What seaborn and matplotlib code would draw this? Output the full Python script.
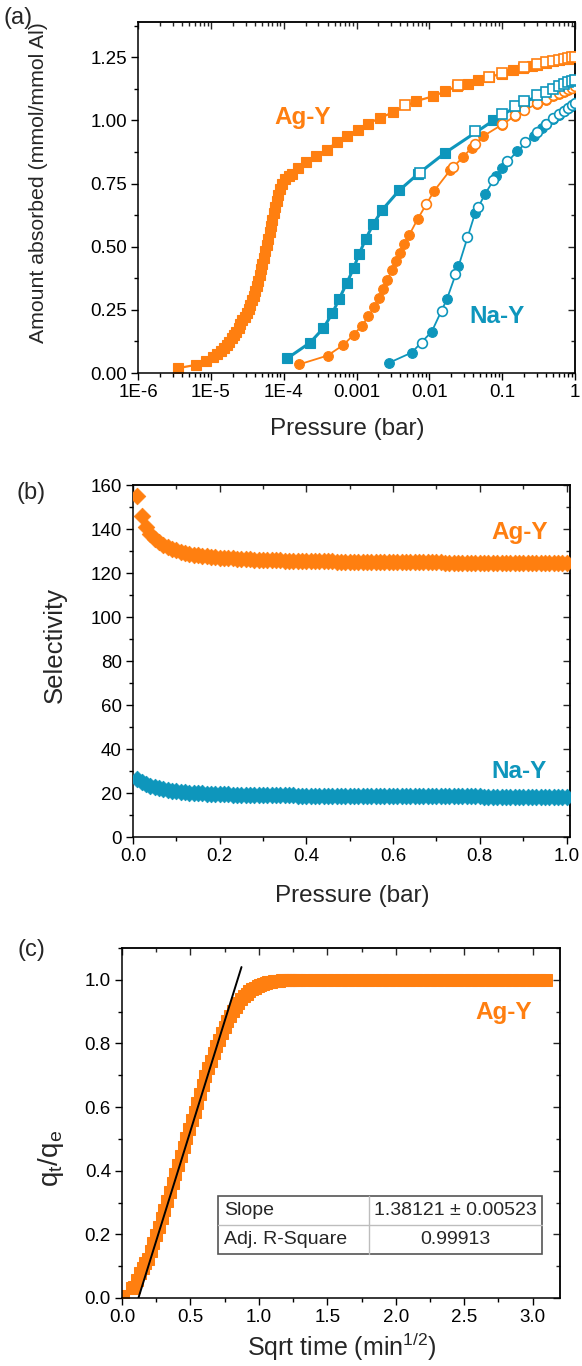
import numpy as np
import pandas as pd
import matplotlib
matplotlib.use("Agg")
import matplotlib.pyplot as plt
import seaborn as sns
from matplotlib.ticker import (FixedLocator, FixedFormatter, MultipleLocator,
                               LogLocator, NullFormatter, FormatStrFormatter)
from matplotlib.patches import Rectangle

# ---------------- colours ----------------
ORANGE = "#FF7F10"
BLUE = "#0E96BC"

# ---------------- panel (a): isotherms ----------------
ag_sq_p = [3.5e-6, 6.2e-6, 8.6e-6, 1.08e-5, 1.22e-5, 1.36e-5, 1.5e-5, 1.65e-5, 1.8e-5,
           1.95e-5, 2.1e-5, 2.25e-5, 2.4e-5, 2.55e-5, 2.72e-5, 2.9e-5, 3.1e-5, 3.3e-5,
           3.5e-5, 3.7e-5, 3.9e-5, 4.1e-5, 4.3e-5, 4.5e-5, 4.7e-5, 4.9e-5, 5.1e-5,
           5.35e-5, 5.6e-5, 5.85e-5, 6.1e-5, 6.4e-5, 6.7e-5, 7.0e-5, 7.3e-5, 7.65e-5,
           8.0e-5, 8.4e-5, 8.9e-5, 9.5e-5, 1.05e-4, 1.17e-4, 1.29e-4, 1.55e-4, 2.05e-4,
           2.8e-4, 3.9e-4, 5.4e-4, 7.5e-4, 1.06e-3, 1.46e-3, 2.1e-3, 3.2e-3, 6.6e-3,
           1.14e-2, 1.65e-2, 2.4e-2, 3.4e-2, 4.7e-2, 6.6e-2, 0.1, 0.143, 0.196, 0.256,
           0.3, 0.4, 0.5, 0.6, 0.7, 0.8, 0.9, 1.0]
ag_sq_q = [0.019, 0.032, 0.049, 0.065, 0.076, 0.088, 0.100, 0.112, 0.124,
           0.137, 0.150, 0.164, 0.178, 0.193, 0.208, 0.223, 0.238, 0.254,
           0.270, 0.288, 0.306, 0.325, 0.345, 0.366, 0.388, 0.410, 0.433,
           0.457, 0.482, 0.507, 0.532, 0.557, 0.582, 0.607, 0.632, 0.657,
           0.682, 0.705, 0.727, 0.748, 0.768, 0.780, 0.790, 0.812, 0.836,
           0.858, 0.885, 0.914, 0.940, 0.964, 0.988, 1.010, 1.033, 1.077,
           1.096, 1.116, 1.135, 1.143, 1.159, 1.172, 1.186, 1.200, 1.209, 1.216,
           1.221, 1.228, 1.234, 1.238, 1.242, 1.245, 1.248, 1.250]
ag_sq_open_p = [4.65e-3, 2.5e-2, 6.5e-2, 0.099, 0.2, 0.3, 0.4, 0.5, 0.6, 0.7, 0.8, 0.9, 1.0]
ag_sq_open_q = [1.063, 1.140, 1.174, 1.188, 1.212, 1.224, 1.231, 1.236, 1.241, 1.245, 1.248, 1.251, 1.253]

na_sq_p = [1.12e-4, 2.3e-4, 3.5e-4, 4.67e-4, 5.8e-4, 7.35e-4, 9.1e-4, 1.09e-3, 1.34e-3,
           1.71e-3, 2.27e-3, 3.85e-3, 7.1e-3, 1.65e-2, 7.6e-2, 0.15, 0.2, 0.3, 0.4,
           0.5, 0.6, 0.7, 0.8, 0.9, 1.0]
na_sq_q = [0.058, 0.120, 0.177, 0.237, 0.294, 0.356, 0.414, 0.472, 0.531,
           0.591, 0.647, 0.723, 0.790, 0.872, 1.000, 1.052, 1.072, 1.095, 1.110,
           1.122, 1.132, 1.140, 1.147, 1.153, 1.158]
na_sq_open_p = [7.5e-3, 4.2e-2, 9.9e-2, 0.15, 0.2, 0.3, 0.4, 0.5, 0.6, 0.7, 0.8, 0.9, 1.0]
na_sq_open_q = [0.792, 0.960, 1.026, 1.057, 1.076, 1.099, 1.114, 1.126, 1.136, 1.144, 1.151, 1.157, 1.162]

ag_ci_p = [1.63e-4, 4.0e-4, 6.6e-4, 9.1e-4, 1.18e-3, 1.46e-3, 1.76e-3, 2.04e-3, 2.34e-3,
           2.66e-3, 3.05e-3, 3.5e-3, 3.98e-3, 4.55e-3, 5.33e-3, 6.95e-3, 1.17e-2, 1.93e-2,
           2.9e-2, 3.8e-2, 5.5e-2, 0.1, 0.15, 0.2, 0.3, 0.4, 0.5, 0.6, 0.7, 0.8, 0.9, 1.0]
ag_ci_q = [0.034, 0.069, 0.111, 0.151, 0.187, 0.224, 0.261, 0.296, 0.332,
           0.369, 0.406, 0.442, 0.477, 0.511, 0.548, 0.611, 0.722, 0.803,
           0.855, 0.892, 0.938, 0.984, 1.018, 1.040, 1.066, 1.083, 1.096, 1.106, 1.114,
           1.121, 1.127, 1.132]
ag_ci_open_p = [9.0e-3, 2.14e-2, 4.26e-2, 0.099, 0.15, 0.2, 0.3, 0.4, 0.5, 0.6, 0.7, 0.8, 0.9, 1.0]
ag_ci_open_q = [0.668, 0.817, 0.905, 0.985, 1.020, 1.043, 1.069, 1.086, 1.099, 1.109, 1.117, 1.124, 1.130, 1.135]

na_ci_p = [2.83e-3, 5.74e-3, 1.08e-2, 1.74e-2, 2.51e-2, 4.26e-2, 5.84e-2, 8.3e-2, 0.1,
           0.16, 0.27, 0.35, 0.4, 0.5, 0.6, 0.7, 0.8, 0.9, 1.0]
na_ci_q = [0.041, 0.081, 0.164, 0.292, 0.422, 0.634, 0.709, 0.782, 0.812,
           0.878, 0.940, 0.970, 0.985, 1.006, 1.022, 1.036, 1.048, 1.058, 1.066]
na_ci_open_p = [7.9e-3, 1.48e-2, 2.26e-2, 3.27e-2, 4.64e-2, 7.6e-2, 0.118, 0.207, 0.3,
                0.4, 0.5, 0.6, 0.7, 0.8, 0.9, 1.0]
na_ci_open_q = [0.118, 0.247, 0.392, 0.537, 0.656, 0.766, 0.839, 0.914, 0.955,
                0.988, 1.009, 1.025, 1.039, 1.050, 1.060, 1.069]

a_xticks = [1e-6, 1e-5, 1e-4, 1e-3, 1e-2, 1e-1, 1.0]
a_xticklabels = ["1E-6", "1E-5", "1E-4", "0.001", "0.01", "0.1", "1"]

# ---------------- panel (b): selectivity ----------------
sel_p = [0.01, 0.02, 0.03, 0.04, 0.05, 0.06, 0.07, 0.08, 0.09, 0.10,
         0.11, 0.12, 0.13, 0.14, 0.15, 0.16, 0.17, 0.18, 0.19, 0.20,
         0.21, 0.22, 0.23, 0.24, 0.25, 0.26, 0.27, 0.28, 0.29, 0.30,
         0.31, 0.32, 0.33, 0.34, 0.35, 0.36, 0.37, 0.38, 0.39, 0.40,
         0.41, 0.42, 0.43, 0.44, 0.45, 0.46, 0.47, 0.48, 0.49, 0.50,
         0.51, 0.52, 0.53, 0.54, 0.55, 0.56, 0.57, 0.58, 0.59, 0.60,
         0.61, 0.62, 0.63, 0.64, 0.65, 0.66, 0.67, 0.68, 0.69, 0.70,
         0.71, 0.72, 0.73, 0.74, 0.75, 0.76, 0.77, 0.78, 0.79, 0.80,
         0.81, 0.82, 0.83, 0.84, 0.85, 0.86, 0.87, 0.88, 0.89, 0.90,
         0.91, 0.92, 0.93, 0.94, 0.95, 0.96, 0.97, 0.98, 0.99, 1.00]
sel_agy = [155.0, 146.0, 141.0, 137.8, 135.6, 134.0, 132.8, 131.8, 131.0, 130.3,
           129.7, 129.2, 128.8, 128.4, 128.1, 127.8, 127.6, 127.4, 127.2, 127.0,
           126.9, 126.7, 126.6, 126.5, 126.4, 126.3, 126.2, 126.1, 126.0, 125.9,
           125.85, 125.8, 125.75, 125.7, 125.65, 125.6, 125.55, 125.5, 125.45, 125.4,
           125.38, 125.35, 125.32, 125.3, 125.27, 125.24, 125.22, 125.2, 125.17, 125.15,
           125.13, 125.1, 125.08, 125.06, 125.04, 125.02, 125.0, 124.98, 124.96, 124.94,
           124.92, 124.9, 124.89, 124.88, 124.86, 124.85, 124.84, 124.82, 124.81, 124.8,
           124.78, 124.77, 124.76, 124.75, 124.74, 124.72, 124.71, 124.7, 124.69, 124.68,
           124.67, 124.66, 124.65, 124.64, 124.63, 124.62, 124.61, 124.6, 124.59, 124.58,
           124.57, 124.56, 124.55, 124.54, 124.53, 124.52, 124.51, 124.5, 124.49, 124.48]
sel_nay = [26.5, 25.0, 24.0, 23.2, 22.6, 22.1, 21.7, 21.3, 21.0, 20.7,
           20.5, 20.3, 20.15, 20.0, 19.9, 19.8, 19.7, 19.62, 19.55, 19.48,
           19.42, 19.36, 19.31, 19.26, 19.22, 19.18, 19.14, 19.1, 19.07, 19.04,
           19.01, 18.98, 18.96, 18.94, 18.92, 18.9, 18.88, 18.86, 18.84, 18.82,
           18.8, 18.79, 18.78, 18.77, 18.76, 18.75, 18.74, 18.73, 18.72, 18.71,
           18.7, 18.69, 18.68, 18.67, 18.66, 18.65, 18.64, 18.63, 18.62, 18.61,
           18.6, 18.59, 18.58, 18.57, 18.56, 18.55, 18.54, 18.53, 18.52, 18.51,
           18.5, 18.49, 18.48, 18.47, 18.46, 18.45, 18.44, 18.43, 18.42, 18.41,
           18.4, 18.39, 18.38, 18.37, 18.36, 18.35, 18.34, 18.33, 18.32, 18.31,
           18.3, 18.29, 18.28, 18.27, 18.26, 18.25, 18.24, 18.23, 18.22, 18.21]

# ---------------- panel (c): kinetics ----------------
kin_s = [0.01, 0.07, 0.09, 0.11, 0.13, 0.15, 0.17, 0.19, 0.21, 0.23, 0.25, 0.27, 0.29,
         0.31, 0.33, 0.35, 0.37, 0.39, 0.41, 0.43, 0.45, 0.47, 0.49, 0.51, 0.53, 0.55,
         0.57, 0.59, 0.61, 0.63, 0.65, 0.67, 0.69, 0.71, 0.73, 0.75, 0.77, 0.79, 0.81,
         0.83, 0.85, 0.87, 0.89, 0.91, 0.93, 0.95, 0.97, 0.99, 1.01, 1.03, 1.05, 1.07,
         1.09, 1.11, 1.13, 1.15, 1.17, 1.19, 1.21, 1.23, 1.25, 1.27, 1.29,
         1.35, 1.40, 1.45, 1.50, 1.55, 1.60, 1.65, 1.70, 1.75, 1.80, 1.85, 1.90, 1.95,
         2.00, 2.05, 2.10, 2.15, 2.20, 2.25, 2.30, 2.35, 2.40, 2.45, 2.50, 2.55, 2.60,
         2.65, 2.70, 2.75, 2.80, 2.85, 2.90, 2.95, 3.00, 3.05, 3.10]
kin_q = [0.006, 0.030, 0.035, 0.058, 0.078, 0.095, 0.110, 0.124, 0.148, 0.172, 0.197, 0.224, 0.251,
         0.278, 0.306, 0.334, 0.362, 0.390, 0.418, 0.446, 0.474, 0.502, 0.530, 0.558, 0.586, 0.614,
         0.642, 0.670, 0.697, 0.722, 0.746, 0.769, 0.791, 0.812, 0.832, 0.852, 0.870, 0.887, 0.902,
         0.916, 0.928, 0.939, 0.949, 0.957, 0.964, 0.970, 0.975, 0.980, 0.984, 0.987, 0.990, 0.992,
         0.994, 0.995, 0.996, 0.997, 0.998, 0.998, 0.999, 0.999, 0.999, 1.000, 1.000,
         1.000, 1.000, 1.000, 1.000, 1.000, 1.000, 1.000, 1.000, 1.000, 1.000, 1.000, 1.000, 1.000,
         1.000, 1.000, 1.000, 1.000, 1.000, 1.000, 1.000, 1.000, 1.000, 1.000, 1.000, 1.000, 1.000,
         1.000, 1.000, 1.000, 1.000, 1.000, 1.000, 1.000, 1.000, 1.000, 1.000]
fit_slope = 1.38121
fit_intercept = -0.1657
fit_range = [0.12, 0.873]
fit_labels = ["Slope", "Adj. R-Square"]
fit_values = ["1.38121 \u00b1 0.00523", "0.99913"]

# ---------------- style ----------------
sns.set_style("ticks")
plt.rcParams["font.family"] = ["Liberation Sans", "DejaVu Sans"]
plt.rcParams["mathtext.fontset"] = "custom"
plt.rcParams["mathtext.rm"] = "Liberation Sans"
plt.rcParams["mathtext.it"] = "Liberation Sans"
plt.rcParams["axes.linewidth"] = 1.1

TICK_FS = 13.5
ANN_FS = 17.5
PANEL_FS = 17

fig = plt.figure(figsize=(5.82, 13.66), dpi=100)
W, H = 582.0, 1366.0


def add_axes_px(left, top, right, bottom):
    return fig.add_axes([left / W, 1 - bottom / H, (right - left) / W, (bottom - top) / H])


def style_axes(ax, xmaj, xmin, ymaj, ymin, xmaj2, xmin2, ymaj2, ymin2):
    ax.xaxis.set_major_locator(xmaj)
    ax.xaxis.set_minor_locator(xmin)
    ax.yaxis.set_major_locator(ymaj)
    ax.yaxis.set_minor_locator(ymin)
    ax.tick_params(which="both", direction="out", width=1.0, labelsize=TICK_FS,
                   top=False, right=False, colors="black")
    ax.tick_params(which="major", length=5, pad=3)
    ax.tick_params(which="minor", length=3)
    for s in ax.spines.values():
        s.set_visible(True)
        s.set_linewidth(1.1)
        s.set_color("black")
    top = ax.secondary_xaxis("top")
    top.xaxis.set_major_locator(xmaj2)
    top.xaxis.set_minor_locator(xmin2)
    top.xaxis.set_major_formatter(NullFormatter())
    top.xaxis.set_minor_formatter(NullFormatter())
    top.tick_params(which="both", direction="in", width=1.0)
    top.tick_params(which="major", length=5)
    top.tick_params(which="minor", length=3)
    top.spines["top"].set_linewidth(1.1)
    right = ax.secondary_yaxis("right")
    right.yaxis.set_major_locator(ymaj2)
    right.yaxis.set_minor_locator(ymin2)
    right.yaxis.set_major_formatter(NullFormatter())
    right.yaxis.set_minor_formatter(NullFormatter())
    right.tick_params(which="both", direction="in", width=1.0)
    right.tick_params(which="major", length=5)
    right.tick_params(which="minor", length=3)
    right.spines["right"].set_linewidth(1.1)


def filled(ax, x, y, color, marker, ms, lw, z=2):
    sns.lineplot(x=x, y=y, ax=ax, color=color, marker=marker, markersize=ms,
                 markeredgecolor=color, markerfacecolor=color, markeredgewidth=0.8,
                 linewidth=lw, estimator=None, sort=False, zorder=z)


def hollow(ax, x, y, color, marker, ms, z=3):
    sns.lineplot(x=x, y=y, ax=ax, color=color, marker=marker, markersize=ms,
                 markeredgecolor=color, markerfacecolor="white", markeredgewidth=1.2,
                 linestyle="none", estimator=None, sort=False, zorder=z)


# ================= (a) =================
axa = add_axes_px(138, 22, 575, 373)
axa.set_xscale("log")
filled(axa, na_ci_p, na_ci_q, BLUE, "o", 7, 1.3)
hollow(axa, na_ci_open_p, na_ci_open_q, BLUE, "o", 7)
filled(axa, ag_ci_p, ag_ci_q, ORANGE, "o", 7, 1.3)
hollow(axa, ag_ci_open_p, ag_ci_open_q, ORANGE, "o", 7)
filled(axa, na_sq_p, na_sq_q, BLUE, "s", 6.5, 2.2)
hollow(axa, na_sq_open_p, na_sq_open_q, BLUE, "s", 6.5)
filled(axa, ag_sq_p, ag_sq_q, ORANGE, "s", 6.5, 1.6)
hollow(axa, ag_sq_open_p, ag_sq_open_q, ORANGE, "s", 6.5)
axa.set_xlim(1e-6, 1.0)
axa.set_ylim(0, 1.39)
style_axes(axa,
           FixedLocator(a_xticks), LogLocator(base=10, subs=np.arange(2, 10), numticks=20),
           MultipleLocator(0.25), MultipleLocator(0.125),
           FixedLocator(a_xticks), LogLocator(base=10, subs=np.arange(2, 10), numticks=20),
           MultipleLocator(0.25), MultipleLocator(0.125))
axa.xaxis.set_major_formatter(FixedFormatter(a_xticklabels))
axa.xaxis.set_minor_formatter(NullFormatter())
axa.yaxis.set_major_formatter(FormatStrFormatter("%.2f"))
axa.set_xlabel("Pressure (bar)", fontsize=17.5)
axa.set_ylabel("Amount absorbed (mmol/mmol Al)", fontsize=15.3)
axa.xaxis.set_label_coords(0.479, -0.128)
axa.yaxis.set_label_coords(-0.205, 0.542)
axa.text(1.85e-4, 1.01, "Ag-Y", color=ORANGE, fontsize=ANN_FS, fontweight="bold",
         ha="center", va="center")
axa.text(8.5e-2, 0.222, "Na-Y", color=BLUE, fontsize=ANN_FS, fontweight="bold",
         ha="center", va="center")

# ================= (b) =================
axb = add_axes_px(133, 485, 570, 837)
sns.scatterplot(x=sel_p, y=sel_agy, ax=axb, color=ORANGE, marker="D", s=72,
                edgecolor=ORANGE, linewidth=0.5, zorder=3)
sns.scatterplot(x=sel_p, y=sel_nay, ax=axb, color=BLUE, marker="D", s=72,
                edgecolor=BLUE, linewidth=0.5, zorder=3)
axb.set_xlim(0, 1.008)
axb.set_ylim(0, 160)
style_axes(axb,
           MultipleLocator(0.2), MultipleLocator(0.1), MultipleLocator(20), MultipleLocator(10),
           MultipleLocator(0.2), MultipleLocator(0.1), MultipleLocator(20), MultipleLocator(10))
axb.xaxis.set_major_formatter(FormatStrFormatter("%.1f"))
axb.yaxis.set_major_formatter(FormatStrFormatter("%d"))
axb.set_xlabel("Pressure (bar)", fontsize=17.5)
axb.set_ylabel("Selectivity", fontsize=18.5)
axb.xaxis.set_label_coords(0.502, -0.136)
axb.yaxis.set_label_coords(-0.152, 0.545)
axb.text(0.891, 138.2, "Ag-Y", color=ORANGE, fontsize=ANN_FS, fontweight="bold",
         ha="center", va="center")
axb.text(0.891, 30, "Na-Y", color=BLUE, fontsize=ANN_FS, fontweight="bold",
         ha="center", va="center")

# ================= (c) =================
axc = add_axes_px(122, 948, 560, 1298)
sns.lineplot(x=kin_s, y=kin_q, ax=axc, color=ORANGE, marker="s", markersize=8.5,
             markeredgecolor=ORANGE, markerfacecolor=ORANGE, linestyle="none",
             estimator=None, sort=False, zorder=2)
fit_y = [fit_slope * v + fit_intercept for v in fit_range]
sns.lineplot(x=fit_range, y=fit_y, ax=axc, color="black", linewidth=1.4,
             estimator=None, sort=False, zorder=4)
axc.set_xlim(0, 3.2)
axc.set_ylim(0, 1.1)
style_axes(axc,
           MultipleLocator(0.5), MultipleLocator(0.25), MultipleLocator(0.2), MultipleLocator(0.1),
           MultipleLocator(0.5), MultipleLocator(0.25), MultipleLocator(0.2), MultipleLocator(0.1))
axc.xaxis.set_major_formatter(FormatStrFormatter("%.1f"))
axc.yaxis.set_major_formatter(FormatStrFormatter("%.1f"))
axc.set_xlabel(r"Sqrt time (min$^{\mathregular{1/2}}$)", fontsize=18)
axc.set_ylabel(r"q$_{\mathregular{t}}$/q$_{\mathregular{e}}$", fontsize=20)
axc.xaxis.set_label_coords(0.502, -0.095)
axc.yaxis.set_label_coords(-0.128, 0.40)
axc.text(2.79, 0.896, "Ag-Y", color=ORANGE, fontsize=ANN_FS, fontweight="bold",
         ha="center", va="center")

# fit-result table
tx0, tx1, txm = 0.22, 0.958, 0.564
ty0, ty1, tym = 0.125, 0.292, 0.2086
axc.plot([txm, txm], [ty0, ty1], transform=axc.transAxes, color="#bdbdbd", lw=1.0, zorder=5)
axc.plot([tx0, tx1], [tym, tym], transform=axc.transAxes, color="#bdbdbd", lw=1.0, zorder=5)
axc.add_patch(Rectangle((tx0, ty0), tx1 - tx0, ty1 - ty0, transform=axc.transAxes,
                        facecolor="white", edgecolor="#555555", lw=1.2, zorder=4.5))
row_centers = [(tym + ty1) / 2, (ty0 + tym) / 2]
for lab, val, yc in zip(fit_labels, fit_values, row_centers):
    axc.text(tx0 + 0.013, yc, lab, transform=axc.transAxes, fontsize=14,
             ha="left", va="center", zorder=6)
    axc.text((txm + tx1) / 2, yc, val, transform=axc.transAxes, fontsize=14,
             ha="center", va="center", zorder=6)

# panel letters
fig.text(18 / W, 1 - 18 / H, "(a)", fontsize=PANEL_FS, ha="center", va="center")
fig.text(31 / W, 1 - 493 / H, "(b)", fontsize=PANEL_FS, ha="center", va="center")
fig.text(31 / W, 1 - 950 / H, "(c)", fontsize=PANEL_FS, ha="center", va="center")

fig.savefig("out.png", dpi=100)
